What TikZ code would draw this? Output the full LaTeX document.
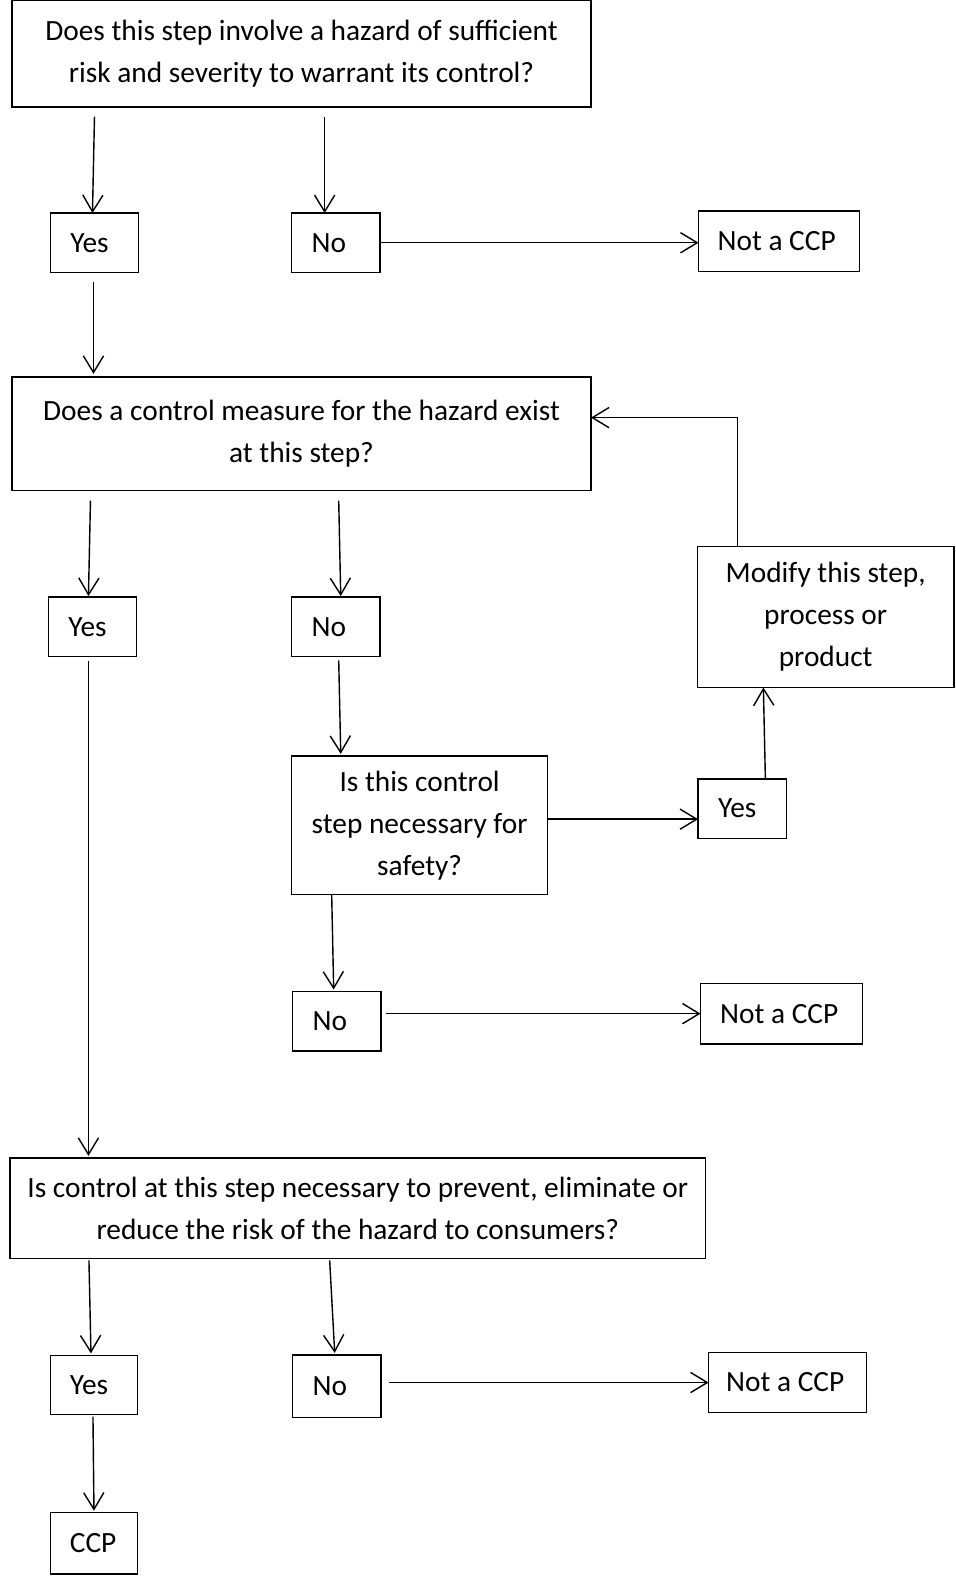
\documentclass[tikz,border=0pt]{standalone}
\usepackage{fontspec}
\setmainfont{Carlito}
\usepackage{tikz}
\usetikzlibrary{positioning,calc,arrows.meta}
\newdimen\unitpx
\unitpx=0.0201cm
\tikzset{
    box/.style={draw, line width=0.8pt, inner sep=0pt, outer sep=0pt, align=center,
        font=\fontsize{16.7pt}{23.9pt}\selectfont},
    small/.style={box, align=flush left, text width=48\unitpx, minimum width=88\unitpx, minimum height=59\unitpx},
    wide/.style={box, align=flush left, text width=122\unitpx, minimum height=60\unitpx},
    arr/.style={line width=0.8pt, -{Straight Barb[length=9.5pt,width=11.5pt]}}
}
\begin{document}
\begin{tikzpicture}[x=\unitpx, y=-\unitpx]
            \useasboundingbox (0,0) rectangle (951,1568);

            \node[box, line width=1.1pt, minimum width=576\unitpx, minimum height=106\unitpx] (q1) at (300,53)
                {Does this step involve a hazard of sufficient\\risk and severity to warrant its control?};
            \node[small] (yes1) at (94,241.5) {Yes};
            \node[small] (no1) at (334,241.5) {No};
            \node[wide, minimum width=160\unitpx] (ncp1) at (775,240) {Not a CCP};

            \node[box, minimum width=576\unitpx, minimum height=113\unitpx] (q2) at (300,431.5)
                {Does a control measure for the hazard exist\\at this step?};
            \node[small] (yes2) at (92,623.5) {Yes};
            \node[small] (no2) at (334,623.5) {No};
            \node[box, minimum width=255\unitpx, minimum height=140\unitpx] (mod) at (821.5,614)
                {Modify this step,\\process or\\product};

            \node[box, minimum width=255\unitpx, minimum height=138\unitpx] (q3) at (417.5,821)
                {Is this control\\step necessary for\\safety?};
            \node[small] (yes3) at (738.5,804.5) {Yes};
            \node[small] (no3) at (335,1016) {No};
            \node[wide, minimum width=161\unitpx] (ncp2) at (777.5,1008.5) {Not a CCP};

            \node[box, minimum width=692\unitpx, minimum height=100\unitpx] (q4) at (356,1202)
                {Is control at this step necessary to prevent, eliminate or\\reduce the risk of the hazard to consumers?};
            \node[small, minimum width=87\unitpx] (yes4) at (93.5,1378) {Yes};
            \node[small, minimum height=62\unitpx] (no4) at (335,1379) {No};
            \node[wide, minimum width=157\unitpx] (ncp3) at (783.5,1375.5) {Not a CCP};
            \node[small, minimum width=87\unitpx, minimum height=61\unitpx] (ccp) at (93.5,1535.5) {CCP};

            % first question
            \draw[arr] ($(q1.south -| yes1.north)+(0,10)$) -- ($(yes1.north)+(-2,0)$);
            \draw[arr] ($(q1.south -| no1.north)+(-11,10)$) -- ($(no1.north)+(-11,0)$);
            \draw[arr] (no1.east) -- (no1.east -| ncp1.west);
            \draw[arr] ($(yes1.south)+(-1,10)$) -- ($(q2.north -| yes1.south)+(-1,-3)$);

            % second question
            \draw[arr] ($(mod.north west)+(40,0)$) |- ($(q2.east)+(0,-16)$);
            \draw[arr] ($(q2.south -| yes2.north)+(-2,10)$) -- ($(yes2.north)+(-4,-1)$);
            \draw[arr] ($(q2.south -| no2.north)+(3,10)$) -- ($(no2.north)+(5,-1)$);
            \draw[arr] ($(no2.south)+(3,4)$) -- ($(q3.north -| no2.south)+(5,-2)$);
            \draw[arr] ($(q3.east)+(0,-6)$) -- ($(q3.east -| yes3.west)+(0,-6)$);
            \draw[arr] ($(yes3.north)+(23,0)$) -- ($(mod.south -| yes3.north)+(21,0)$);
            \draw[arr] ($(q3.south -| no3.north)+(-5,0)$) -- ($(no3.north)+(-3,-2)$);
            \draw[arr] ($(no3.east |- ncp2.west)+(5,0)$) -- (ncp2.west);
            \draw[arr] ($(yes2.south)+(-4,5)$) -- ($(q4.north -| yes2.south)+(-4,-2)$);

            % third question
            \draw[arr] ($(q4.south -| yes4.north)+(-5,2)$) -- ($(yes4.north)+(-3,-2)$);
            \draw[arr] ($(q4.south -| no4.north)+(-7,2)$) -- ($(no4.north)+(-2,-2)$);
            \draw[arr] ($(no4.east |- ncp3.west)+(8,0)$) -- (ncp3.west);
            \draw[arr] ($(yes4.south)+(-1,2)$) -- ($(ccp.north)+(0,-2)$);
\end{tikzpicture}
\end{document}
